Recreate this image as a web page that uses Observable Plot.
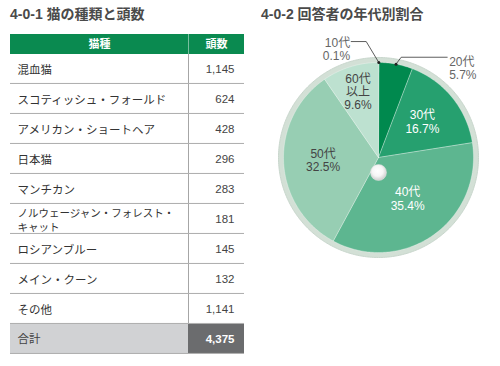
<!DOCTYPE html>
<html><head><meta charset="utf-8">
<script src="https://cdn.jsdelivr.net/npm/d3@7"></script>
<script src="https://cdn.jsdelivr.net/npm/@observablehq/plot@0.6"></script>
<style>
html,body{margin:0;padding:0;background:#fff;}
#root{position:relative;width:500px;height:366px;overflow:hidden;font-family:"Liberation Sans","Noto Sans CJK JP",sans-serif;}
.title{position:absolute;top:6px;font-size:14px;font-weight:bold;color:#4a4a4a;line-height:16px;white-space:nowrap;}
.panel{position:absolute;top:0;}
</style></head><body>
<div id="root">
  <div id="left" class="panel" style="left:0"></div>
  <div id="right" class="panel" style="left:250px"></div>
  <div class="title" style="left:10px">4-0-1 猫の種類と頭数</div>
  <div class="title" style="left:261px">4-0-2 回答者の年代別割合</div>
</div>
<script>
const FONT = '"Liberation Sans","Noto Sans CJK JP",sans-serif';

// ---- Table 4-0-1 data ----
const breeds = ["混血猫","スコティッシュ・フォールド","アメリカン・ショートヘア","日本猫","マンチカン","ノルウェージャン・フォレスト・キャット","ロシアンブルー","メイン・クーン","その他"];
const breedLabels = ["混血猫","スコティッシュ・フォールド","アメリカン・ショートヘア","日本猫","マンチカン","ノルウェージャン・フォレスト・\nキャット","ロシアンブルー","メイン・クーン","その他"];
const counts = [1145,624,428,296,283,181,145,132,1141];
const tableHeaders = ["猫種","頭数"];
const totalLabel = "合計";

// ---- Pie 4-0-2 data ----
const ages = ["10代","20代","30代","40代","50代","60代以上"];
const shares = [0.1,5.7,16.7,35.4,32.5,9.6];
const ageColors = ["#00864a","#00894e","#26a06f","#5db690","#97ceb3","#bde1d0"];

// ---------- Table ----------
const HEADER = "__header";
const SPLIT = (188 - 10) / (244 - 10);
const yDomain = [HEADER, ...breeds, totalLabel];
const Y0 = 21, Y1 = 357;
const BAND = (Y1 - Y0) / yDomain.length;
const rows = breeds.map((b, i) => ({breed: b, label: breedLabels[i], count: counts[i]}));
const total = d3.sum(counts);
const fmt = d3.format(",");

const left = Plot.plot({
  width: 250, height: 366, margin: 0,
  style: {fontFamily: FONT, background: "transparent"},
  x: {type: "linear", domain: [0, 1], range: [10, 244], axis: null},
  y: {type: "band", domain: yDomain, range: [Y0, Y1], padding: 0, axis: null},
  marks: [
    Plot.barX([HEADER], {x1: 0, x2: 1, y: d => d, fill: "#0a8a50", insetTop: 10}),
    Plot.barX([totalLabel], {x1: 0, x2: SPLIT, y: d => d, fill: "#d1d2d4"}),
    Plot.barX([totalLabel], {x1: SPLIT, x2: 1, y: d => d, fill: "#6b6c6e"}),
    Plot.tickX([HEADER], {x: SPLIT, y: d => d, stroke: "#ffffff", strokeOpacity: 0.45, insetTop: 10}),
    Plot.tickX(breeds, {x: SPLIT, y: d => d, stroke: "#a6a6a6"}),
    Plot.barX([...breeds, totalLabel], {x1: 0, x2: 1, y: d => d, fill: "#b0b0b0", insetTop: BAND - 1.6}),
    Plot.text(tableHeaders, {x: (d, i) => i === 0 ? SPLIT / 2 : (SPLIT + 1) / 2, y: () => HEADER, text: d => d, fill: "white", fontWeight: "bold", fontSize: 11, dy: 5}),
    Plot.text(rows, {x: 0, y: "breed", text: "label", textAnchor: "start", dx: 7, fill: "#333", fontSize: d => d.label.includes("\n") ? 10.5 : 11.5, lineHeight: 1.35}),
    Plot.text(rows, {x: 1, y: "breed", text: d => fmt(d.count), textAnchor: "end", dx: -10, fill: "#444", fontSize: 11.5}),
    Plot.text([totalLabel], {x: 0, y: d => d, text: d => d, textAnchor: "start", dx: 7, fill: "#444", fontSize: 11.5}),
    Plot.text([total], {x: 1, y: () => totalLabel, text: d => fmt(d), textAnchor: "end", dx: -10, fill: "white", fontWeight: "bold", fontSize: 11.5})
  ]
});
document.getElementById("left").append(left);

// ---------- Pie ----------
const R = 0.95;
const arcs = d3.pie().sort(null).value(d => d)(shares);
const slices = arcs.map((a, i) => ({age: ages[i], share: shares[i], a0: a.startAngle, a1: a.endAngle, mid: (a.startAngle + a.endAngle) / 2}));
const polar = (ang, r) => ({x: r * Math.sin(ang), y: -r * Math.cos(ang)});
const slicePts = slices.flatMap(s => {
  const n = Math.max(2, Math.ceil((s.a1 - s.a0) / (Math.PI / 180)));
  const pts = [{age: s.age, x: 0, y: 0}];
  for (let k = 0; k <= n; k++) pts.push({age: s.age, ...polar(s.a0 + (s.a1 - s.a0) * k / n, R)});
  pts.push({age: s.age, x: 0, y: 0});
  return pts;
});
const ringPts = d3.range(0, 361).map(d => polar(d * Math.PI / 180, 1));

// label layout (styling / placement only)
const inner = {
  "30代": {r: 0.566, fill: "white", weight: "bold"},
  "40代": {r: 0.505, fill: "white", weight: "normal"},
  "50代": {r: 0.555, fill: "#444", weight: "normal"},
  "60代以上": {r: 0.69, fill: "#444", weight: "normal"}
};
const callout = {
  "10代": {elbowDeg: -6.05, elbowR: 1.166, run: -0.15, anchor: "end"},
  "20代": {elbowDeg: 12.75, elbowR: 1.028, run: 0.46, anchor: "start"}
};
const pct = d3.format(".1f");
const innerLabels = slices.filter(s => inner[s.age]).map(s => ({
  ...polar(s.mid, inner[s.age].r), ...inner[s.age],
  text: s.age.replace("以上", "\n以上") + "\n" + pct(s.share) + "%"
}));
const calloutLines = [], calloutDots = [], calloutText = [];
slices.filter(s => callout[s.age]).forEach(s => {
  const c = callout[s.age];
  const p0 = polar(s.mid, R);
  const p1 = polar(c.elbowDeg * Math.PI / 180, c.elbowR);
  const p2 = {x: p1.x + c.run, y: p1.y};
  calloutLines.push({age: s.age, ...p0}, {age: s.age, ...p1}, {age: s.age, ...p2});
  calloutDots.push(p0);
  calloutText.push({...p2, anchor: c.anchor, text: s.age + "\n" + pct(s.share) + "%"});
});

const right = Plot.plot({
  width: 250, height: 366, margin: 0,
  style: {fontFamily: FONT, background: "transparent"},
  x: {type: "linear", domain: [-1, 1], range: [28, 228], axis: null},
  y: {type: "linear", domain: [-1, 1], range: [57, 257], axis: null},
  color: {domain: ages, range: ageColors},
  marks: [
    () => {
      const defs = d3.create("svg:defs");
      const g = defs.append("radialGradient").attr("id", "dotGrad").attr("cx", "45%").attr("cy", "40%").attr("r", "60%");
      g.append("stop").attr("offset", "0%").attr("stop-color", "#ffffff");
      g.append("stop").attr("offset", "55%").attr("stop-color", "#f6f6f6");
      g.append("stop").attr("offset", "100%").attr("stop-color", "#cdcdcd");
      return defs.node();
    },
    Plot.line(ringPts, {x: "x", y: "y", fill: "#d3e0d6", stroke: "#c9d7cd", strokeWidth: 1}),
    Plot.line(slicePts, {x: "x", y: "y", z: "age", fill: "age", stroke: "white", strokeWidth: 0.6, strokeOpacity: 0.5}),
    Plot.dot([{x: 0, y: 0}], {x: "x", y: "y", r: 8, fill: "url(#dotGrad)", stroke: "#e2e2e2", strokeWidth: 0.5, dy: 15}),
    Plot.text(innerLabels, {x: "x", y: "y", text: "text", fill: d => d.fill, fontWeight: d => d.weight, fontSize: 12, lineHeight: 1.1}),
    Plot.line(calloutLines, {x: "x", y: "y", z: "age", stroke: "#333", strokeWidth: 0.8}),
    Plot.dot(calloutDots, {x: "x", y: "y", r: 1.5, fill: "#222"}),
    Plot.text(calloutText.filter(d => d.anchor === "end"), {x: "x", y: "y", text: "text", textAnchor: "end", lineAnchor: "top", dx: -1, dy: -4, fill: "#666", fontSize: 12, lineHeight: 1.1}),
    Plot.text(calloutText.filter(d => d.anchor === "start"), {x: "x", y: "y", text: "text", textAnchor: "start", lineAnchor: "top", dx: 2, dy: -1, fill: "#666", fontSize: 12, lineHeight: 1.1})
  ]
});
document.getElementById("right").append(right);
</script>
</body></html>
